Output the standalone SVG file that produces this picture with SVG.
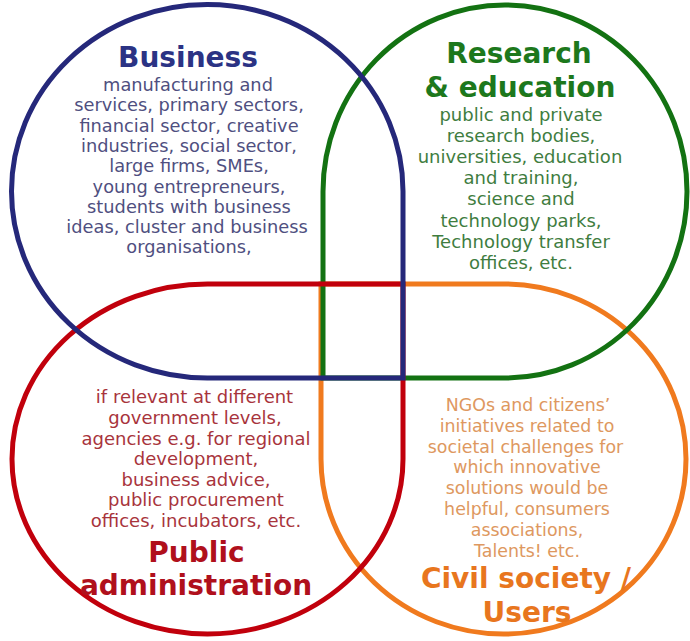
<svg xmlns="http://www.w3.org/2000/svg" width="690" height="641" viewBox="0 0 690 641">
<style>
.shape{fill:none;stroke-width:5;stroke-linejoin:miter}
.t{font-family:"DejaVu Sans","Verdana",sans-serif;text-anchor:middle}
.h{font-weight:bold;font-size:28px}
.b{font-size:17.5px}
.blue{stroke:#25287a}.green{stroke:#137212}.red{stroke:#c1000c}.orange{stroke:#f07a1e}
</style>
<rect width="690" height="641" fill="#ffffff"/>
<g id="shapes">
<path id="civil-outline" class="shape orange" d="M503.5,634 A182.5,175 0 0 0 686,459 A182.5,175 0 0 0 503.5,284 L321,284 L321,459 A182.5,175 0 0 0 503.5,634 Z"/>
<path id="research-outline" class="shape green" d="M505,5 A182,186.5 0 0 0 323,191.5 L323,378 L505,378 A182,186.5 0 0 0 687,191.5 A182,186.5 0 0 0 505,5 Z"/>
<path id="public-outline" class="shape red" d="M207.5,634 A195.5,175 0 0 0 403,459 L403,284 L207.5,284 A195.5,175 0 0 0 12,459 A195.5,175 0 0 0 207.5,634 Z"/>
<path id="business-outline" class="shape blue" d="M207.25,4.5 A195.75,186.75 0 0 0 11.5,191.25 A195.75,186.75 0 0 0 207.25,378 L403,378 L403,191.25 A195.75,186.75 0 0 0 207.25,4.5 Z"/>
</g>
<g id="business" class="t">
<text class="h" x="188" y="66.5" fill="#2b3384">Business</text>
<g class="b" fill="#4f4f80" style="font-size:17.8px">
<text x="188" y="91">manufacturing and</text>
<text x="189" y="111.3">services, primary  sectors,</text>
<text x="189" y="131.6">financial sector, creative</text>
<text x="189" y="151.9">industries, social sector,</text>
<text x="189" y="172.2">large firms, SMEs,</text>
<text x="189" y="192.5">young entrepreneurs,</text>
<text x="189" y="212.8">students with business</text>
<text x="187" y="233.1">ideas, cluster and business</text>
<text x="189" y="253.4">organisations,</text>
</g>
</g>
<g id="research" class="t">
<text class="h" x="519" y="63.3" fill="#1d781c">Research</text>
<text class="h" x="520" y="96.7" fill="#1d781c">&amp; education</text>
<g class="b" fill="#3f7d3f" style="font-size:18px">
<text x="521" y="120.5">public and private</text>
<text x="521" y="141.7">research bodies,</text>
<text x="520" y="163">universities, education</text>
<text x="521" y="184">and training,</text>
<text x="521" y="205.2">science and</text>
<text x="521" y="226.5">technology parks,</text>
<text x="521" y="247.7">Technology transfer</text>
<text x="521" y="269">offices, etc.</text>
</g>
</g>
<g id="public" class="t">
<g class="b" fill="#a8343c" style="font-size:18px">
<text x="194.5" y="403.3">if relevant at different</text>
<text x="195" y="424">government levels,</text>
<text x="196" y="444.6">agencies e.g. for regional</text>
<text x="196" y="465.2">development,</text>
<text x="196" y="485.8">business advice,</text>
<text x="196" y="506.4">public procurement</text>
<text x="196" y="527">offices, incubators, etc.</text>
</g>
<text class="h" x="196.5" y="561.7" fill="#b0101c">Public</text>
<text class="h" x="196" y="595" fill="#b0101c">administration</text>
</g>
<g id="civil-society" class="t">
<g class="b" fill="#de9860" style="font-size:17.4px">
<text x="528" y="410.7">NGOs and citizens’</text>
<text x="527" y="431.6">initiatives related to</text>
<text x="525.5" y="452.5">societal challenges for</text>
<text x="527" y="473.4">which innovative</text>
<text x="527" y="494.3">solutions would be</text>
<text x="527" y="515.2">helpful, consumers</text>
<text x="527" y="536.1">associations,</text>
<text x="527" y="557">Talents! etc.</text>
</g>
<text class="h" x="526" y="588.3" fill="#e8761e">Civil society /</text>
<text class="h" x="527" y="621.7" fill="#e8761e">Users</text>
</g>
</svg>
